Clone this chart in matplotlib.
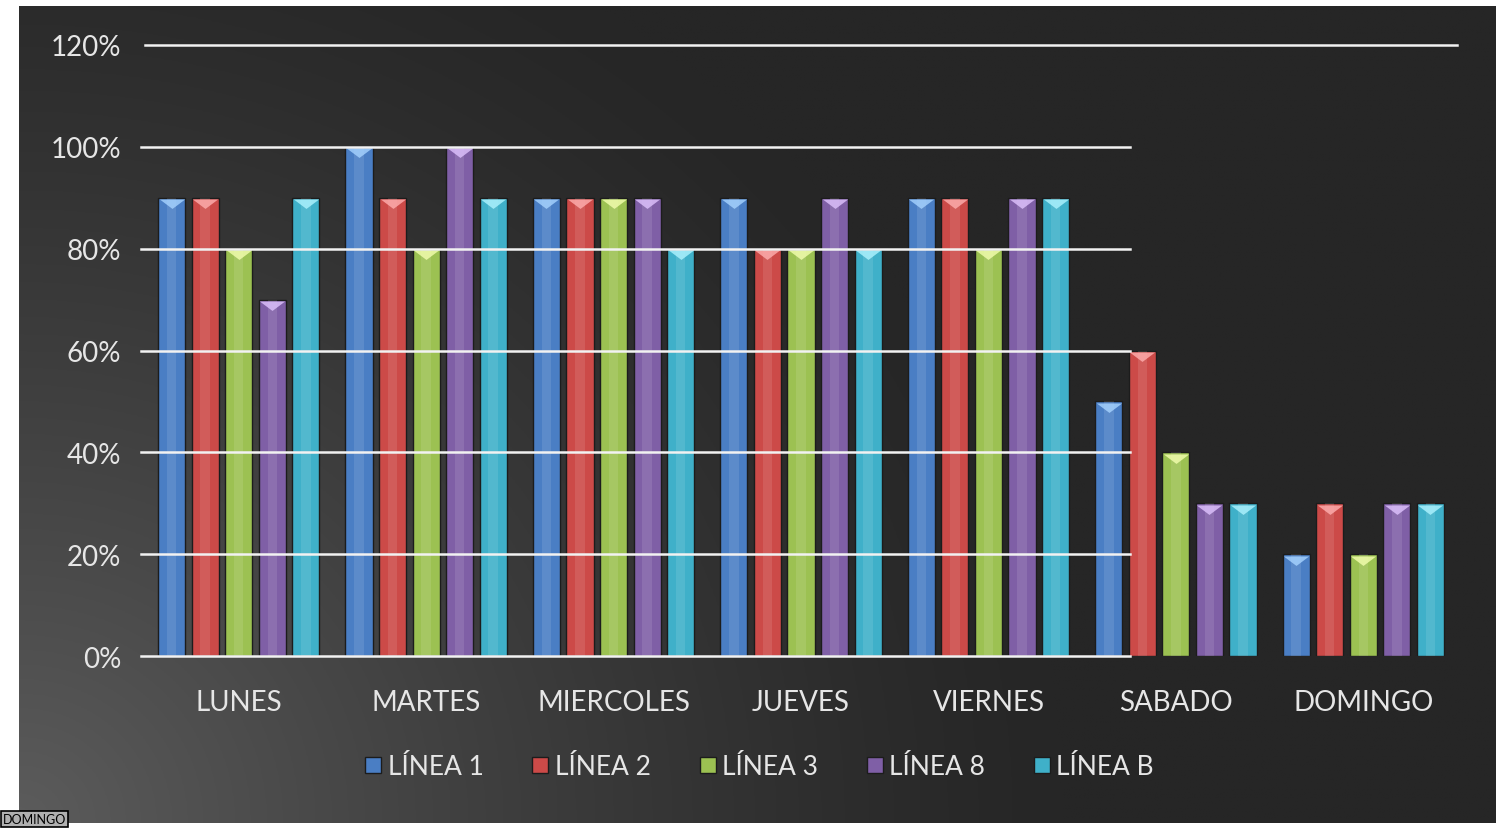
import numpy as np
import matplotlib.pyplot as plt
from matplotlib.path import Path
from matplotlib.lines import Line2D

# --- données ---
dias = ["LUNES", "MARTES", "MIERCOLES", "JUEVES", "VIERNES", "SABADO", "DOMINGO"]
series = ["LÍNEA 1", "LÍNEA 2", "LÍNEA 3", "LÍNEA 8", "LÍNEA B"]
linea_1 = [90, 100, 90, 90, 90, 50, 20]
linea_2 = [90, 90, 90, 80, 90, 60, 30]
linea_3 = [80, 80, 90, 80, 80, 40, 20]
linea_8 = [70, 100, 90, 90, 90, 30, 30]
linea_b = [90, 90, 80, 80, 90, 30, 30]
yticks = [0, 20, 40, 60, 80, 100, 120]

valores = [linea_1, linea_2, linea_3, linea_8, linea_b]
colores = ["#4a7ec4", "#cc4a48", "#9cc152", "#7f5fa6", "#3fb0c9"]
claros = ["#a8d4ff", "#ffb0b0", "#f4ffb0", "#e0c4ff", "#b0f4ff"]

plt.rcParams["font.family"] = ["Lato", "DejaVu Sans"]
W, H = 1511, 829
fig = plt.figure(figsize=(W / 100, H / 100), dpi=100, facecolor="white")

# --- fond en dégradé (plus clair en bas à gauche) ---
bg = fig.add_axes([19 / W, 1 - 824 / H, (1496 - 19) / W, (824 - 7) / H])
yy, xx = np.mgrid[0:1:300j, 0:1:500j]
d = np.sqrt((xx * 1.7) ** 2 + ((1 - yy) * 1.0) ** 2)
g = 38 + 54 * np.clip(1 - d / 1.2, 0, 1) ** 1.3
img = np.dstack([g, g, g]) / 255
bg.imshow(img, aspect="auto", extent=[0, 1, 0, 1], origin="upper")
bg.axis("off")

# triangle large et plat pour le biseau du haut des barres
biseau = Path([(-1, 0), (1, 0), (0, -0.75), (-1, 0)],
              [Path.MOVETO, Path.LINETO, Path.LINETO, Path.CLOSEPOLY])

# --- graphique ---
ax = fig.add_axes([145 / W, 1 - 657 / H, (1457 - 145) / W, (657 - 46) / H])
ax.set_facecolor("none")
x = np.arange(len(dias))
slot = 0.179
bw = 0.145
for i, (vals, c, cl) in enumerate(zip(valores, colores, claros)):
    pos = x + (i - 2) * slot
    ax.bar(pos, vals, width=bw, color=c, edgecolor="#1c1c1c", linewidth=1.0,
           zorder=3)
    ax.bar(pos, vals, width=bw * 0.35, color="white", alpha=0.10,
           linewidth=0, zorder=4)
    ax.scatter(pos, np.array(vals) - 0.3, marker=biseau, s=330, color=cl,
               alpha=0.8, linewidths=0, zorder=5)

ax.set_xlim(-0.5, len(dias) - 0.5)
ax.set_ylim(0, 120)
for t in yticks:
    xmax = 1.0 if t == 120 else 0.751
    ax.axhline(t, xmin=-0.003 if t != 120 else 0, xmax=xmax,
               color="#f2f2f2", lw=1.8, zorder=6, clip_on=False)
ax.set_yticks(yticks)
ax.set_yticklabels([f"{t}%" for t in yticks])
ax.set_xticks(x)
ax.set_xticklabels(dias)
ax.tick_params(axis="both", length=0, labelsize=20, colors="#e6e6e6")
ax.tick_params(axis="y", pad=17)
ax.tick_params(axis="x", pad=24)
for s in ax.spines.values():
    s.set_visible(False)

handles = [Line2D([], [], marker="s", markersize=11, ls="none",
                  markerfacecolor=c, markeredgecolor="#1c1c1c") for c in colores]
leg = fig.legend(handles, series, loc="center", bbox_to_anchor=(759 / W, 1 - 768 / H),
                 ncol=5, frameon=False, fontsize=19, handlelength=0.7,
                 handletextpad=0.2, columnspacing=1.8)
for t in leg.get_texts():
    t.set_color("#e6e6e6")

# petite étiquette en bas à gauche (comme dans l'original)
fig.text(3 / W, 1 - 826 / H, "DOMINGO", fontsize=9, color="black",
         ha="left", va="bottom",
         bbox=dict(boxstyle="square,pad=0.15", fc="#b0b0b0", ec="black", lw=1.2))

fig.savefig("out.png", dpi=100, facecolor="white")
